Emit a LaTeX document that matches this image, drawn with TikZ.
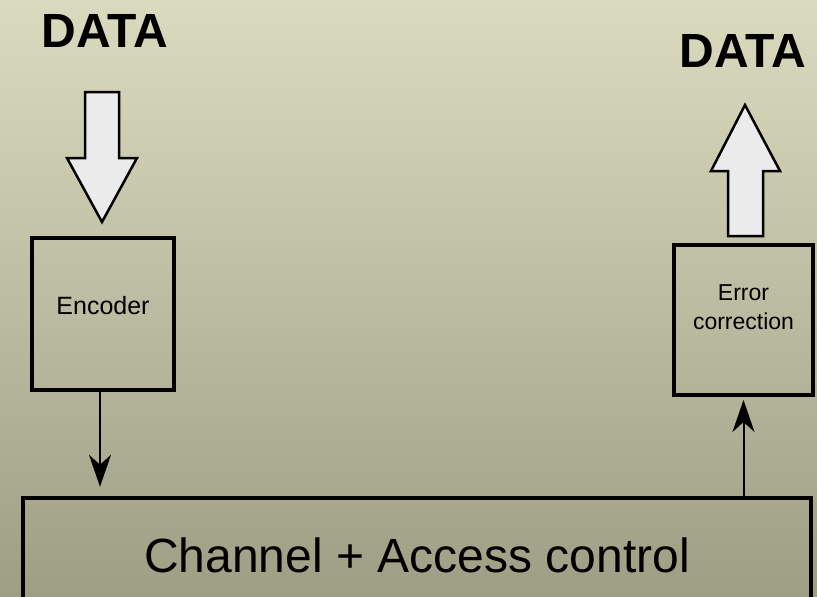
\documentclass[tikz,border=0pt]{standalone}
\usepackage{fontspec}
\setmainfont{Liberation Sans}
\usetikzlibrary{arrows.meta}
\definecolor{bgtop}{RGB}{218,219,190}
\definecolor{bgbot}{RGB}{158,158,133}
\definecolor{arrowfill}{RGB}{235,235,235}
\tikzset{
  box/.style={draw=black, line width=4pt, fill=none, inner sep=0pt},
  title/.style={font=\fontsize{48}{56}\selectfont\bfseries, anchor=base, inner sep=0pt},
  smalltext/.style={font=\fontsize{25}{30}\selectfont, inner sep=0pt},
  conn/.style={line width=2pt, -{Stealth[length=32pt, width=22pt, inset=10pt]}},
  bigarrow/.style={draw=black, line width=2.5pt, fill=arrowfill, line join=miter}
}
\begin{document}
\begin{tikzpicture}[x=1pt, y=-1pt]
  % page and background gradient
  \useasboundingbox (0,0) rectangle (817,597);
  \clip (0,0) rectangle (817,597);
  \shade[top color=bgtop, bottom color=bgbot] (0,0) rectangle (817,597);

  % headings
  \node[title] (datain) at (105,47) {DATA};
  \node[title] (dataout) at (743,67) {DATA};

  % processing blocks
  \node[box, minimum width=142pt, minimum height=152pt] (enc) at (103,314) {};
  \node[smalltext] (enctext) at ([yshift=8pt]enc.center) {Encoder};

  \node[box, minimum width=139pt, minimum height=150pt] (err) at (743.5,320) {};
  \node[smalltext, font=\fontsize{23}{29}\selectfont, align=center] (errtext)
    at ([yshift=12.5pt]err.center) {Error\\correction};

  \node[box, line width=4.5pt, minimum width=788pt, minimum height=114pt,
        font=\fontsize{48}{58}\selectfont] (chan) at (417,555) {Channel + Access control};

  % wide input / output arrows
  \path[bigarrow] (85,92) -- (119,92) -- (119,158) -- (137,158) -- (102,222)
    -- (67,158) -- (85,158) -- cycle;
  \path[bigarrow] (728,236) -- (763,236) -- (763,171) -- (780,171) -- (745,105)
    -- (711,171) -- (728,171) -- cycle;

  % connectors
  \draw[conn, shorten >=9pt] ([xshift=-3pt]enc.south) -- ([xshift=-3pt]enc.south |- chan.north);
  \draw[conn, shorten >=3pt] (err.south |- chan.north) -- (err.south);
\end{tikzpicture}
\end{document}
